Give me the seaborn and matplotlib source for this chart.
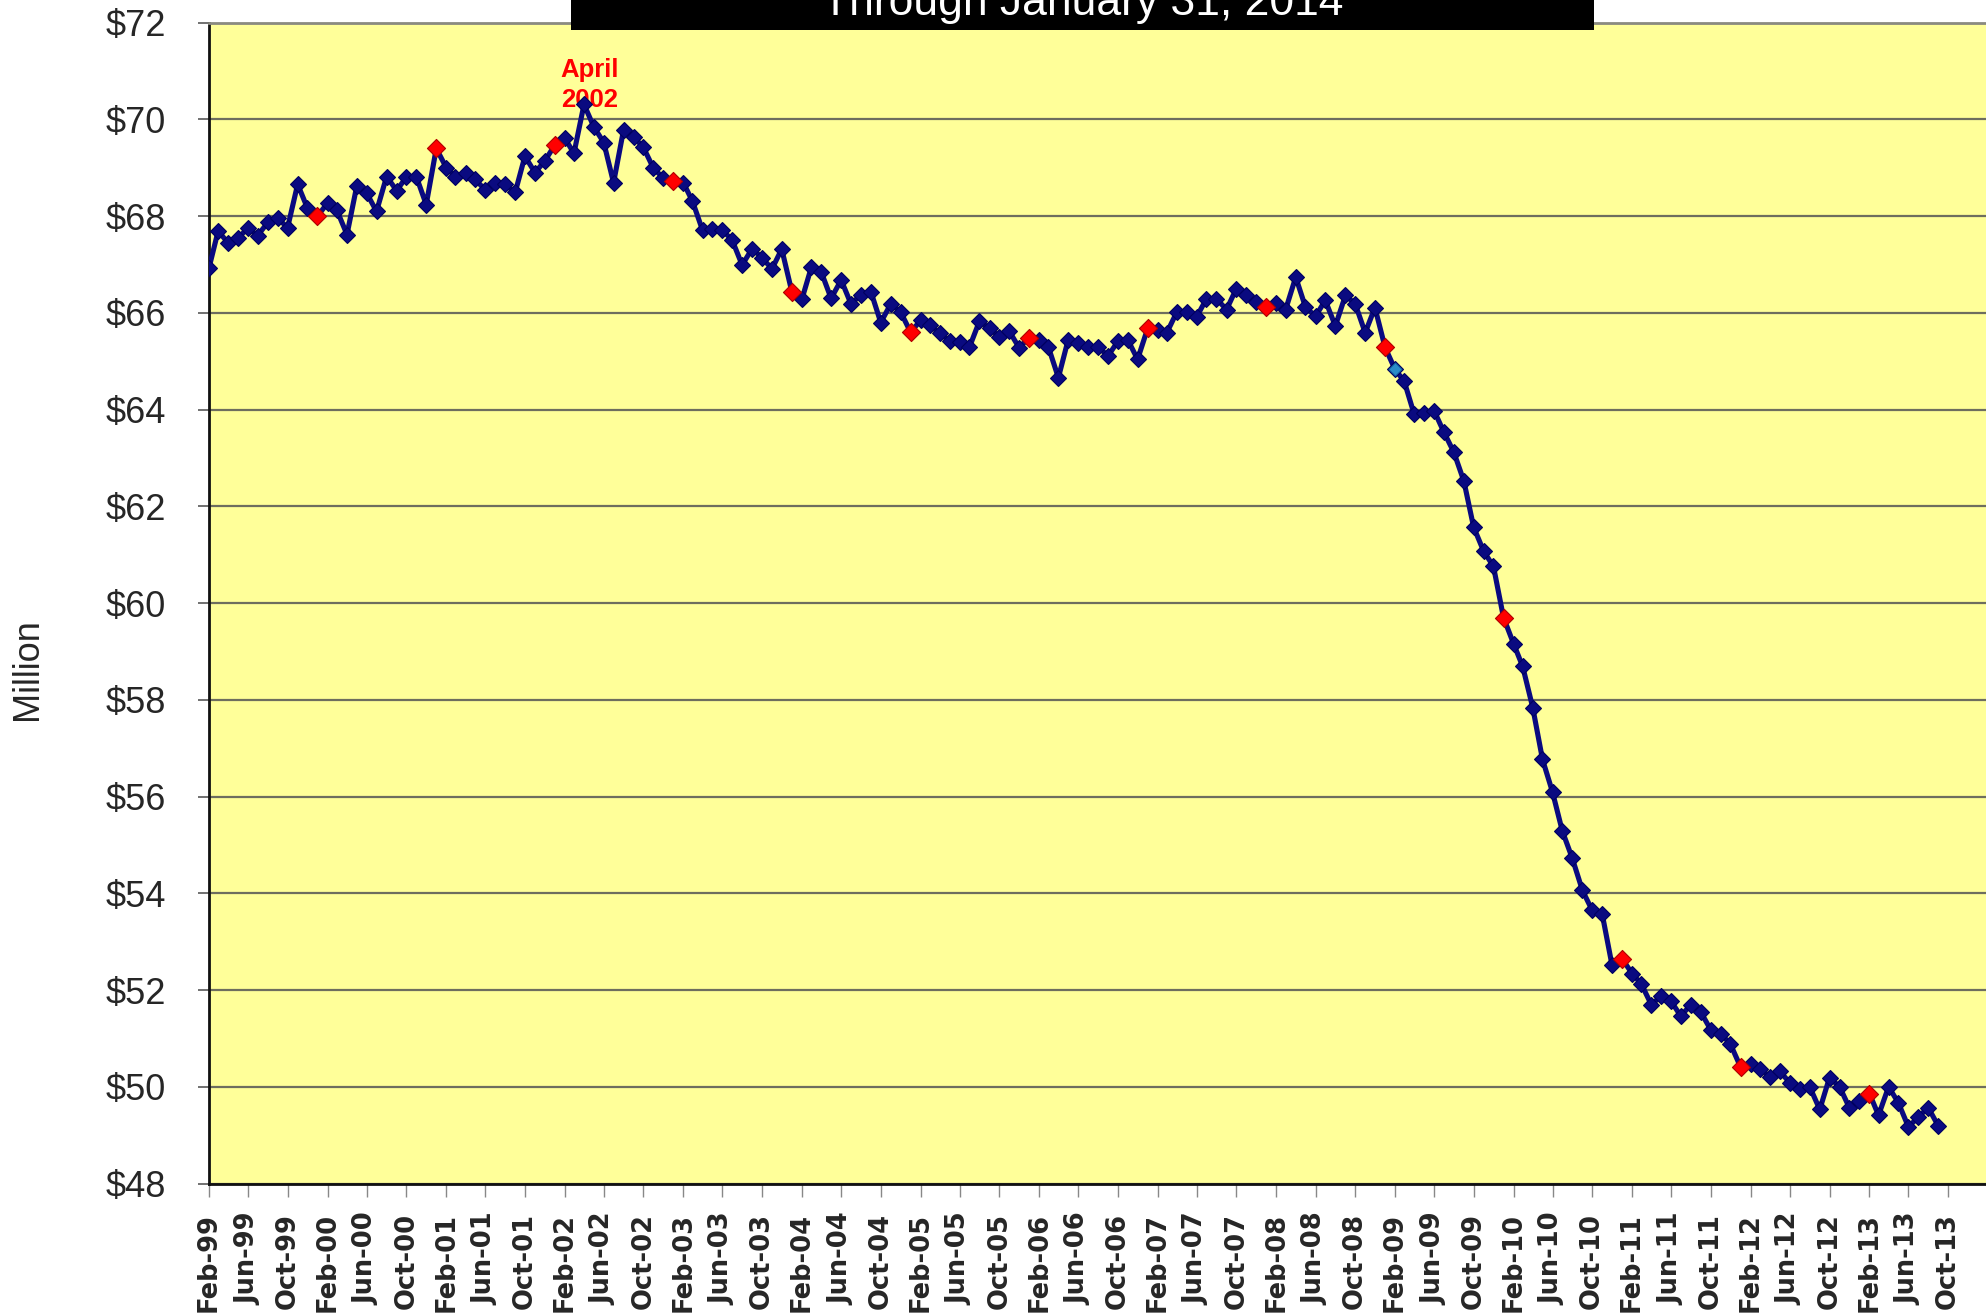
import numpy as np
import pandas as pd
import matplotlib
matplotlib.use("Agg")
import matplotlib.pyplot as plt
from matplotlib.patches import Rectangle
import seaborn as sns

# ---------------- data ----------------
first_month = "1999-02-01"
values = [
    66.93, 67.69, 67.45, 67.55, 67.75, 67.60, 67.87, 67.96, 67.76, 68.66,
    68.17, 68.00, 68.27, 68.12, 67.62, 68.62, 68.47, 68.10, 68.82, 68.53,
    68.81, 68.81, 68.24, 69.40, 69.00, 68.82, 68.90, 68.76, 68.54, 68.69,
    68.66, 68.49, 69.24, 68.90, 69.14, 69.47, 69.61, 69.30, 70.31, 69.85,
    69.52, 68.69, 69.79, 69.64, 69.42, 68.99, 68.79, 68.73, 68.69, 68.31,
    67.71, 67.73, 67.71, 67.51, 66.99, 67.33, 67.14, 66.91, 67.32, 66.44,
    66.28, 66.94, 66.84, 66.30, 66.68, 66.19, 66.37, 66.43, 65.80, 66.19,
    66.02, 65.60, 65.85, 65.74, 65.58, 65.42, 65.39, 65.29, 65.83, 65.68,
    65.51, 65.62, 65.28, 65.49, 65.45, 65.30, 64.66, 65.44, 65.37, 65.29,
    65.30, 65.11, 65.41, 65.44, 65.04, 65.68, 65.65, 65.59, 66.02, 66.02,
    65.92, 66.29, 66.29, 66.07, 66.50, 66.36, 66.23, 66.12, 66.20, 66.07,
    66.74, 66.12, 65.93, 66.26, 65.73, 66.36, 66.19, 65.59, 66.11, 65.29,
    64.83, 64.59, 63.90, 63.93, 63.98, 63.54, 63.12, 62.52, 61.57, 61.07,
    60.76, 59.70, 59.16, 58.69, 57.84, 56.77, 56.09, 55.29, 54.72, 54.06,
    53.65, 53.57, 52.52, 52.65, 52.34, 52.13, 51.70, 51.87, 51.77, 51.46,
    51.70, 51.54, 51.18, 51.10, 50.88, 50.41, 50.47, 50.36, 50.21, 50.32,
    50.08, 49.96, 50.00, 49.53, 50.19, 50.00, 49.57, 49.71, 49.86, 49.41,
    50.00, 49.67, 49.17, 49.37, 49.57, 49.19,
]
highlight_months = ["2000-01", "2001-01", "2002-01", "2003-01", "2004-01",
                    "2005-01", "2006-01", "2007-01", "2008-01", "2009-01",
                    "2010-01", "2011-01", "2012-01", "2013-02"]
teal_months = ["2009-02"]
peak_month = "2002-04"
peak_label = "April\n2002"
title_text = "Through January 31, 2014"
y_label = "Million"
y_ticks = list(range(48, 73, 2))
y_tick_labels = ["$" + str(v) for v in y_ticks]
tick_start, tick_end = "1999-02-01", "2013-10-01"

# ---------------- frame ----------------
dates = pd.date_range(first_month, periods=len(values), freq="MS")
df = pd.DataFrame({"date": dates, "value": values})
df["ym"] = df["date"].dt.strftime("%Y-%m")
df_red = df[df["ym"].isin(highlight_months)]
df_teal = df[df["ym"].isin(teal_months)]
peak_row = df[df["ym"] == peak_month].iloc[0]

sns.set_style("white")
plt.rcParams["font.family"] = ["Liberation Sans", "DejaVu Sans"]

W, H = 1986, 1315
fig = plt.figure(figsize=(W / 100, H / 100), dpi=100)
left_px, top_px, bottom_px = 209, 22.7, 1183.5
ax = fig.add_axes([left_px / W, 1 - bottom_px / H, 1 - left_px / W,
                   (bottom_px - top_px) / H])
ax.set_facecolor("#FFFF99")

navy = "#0A0A80"
sns.lineplot(data=df, x="date", y="value", ax=ax, color=navy, lw=3.7,
             marker="D", markersize=7.8, markeredgecolor="#000060",
             markeredgewidth=0.8, zorder=3, legend=False)
sns.scatterplot(data=df_red, x="date", y="value", ax=ax, marker="D", s=85,
                color="#FF0000", edgecolor="#B00000", linewidth=0.8,
                zorder=4, legend=False)
sns.scatterplot(data=df_teal, x="date", y="value", ax=ax, marker="D", s=45,
                color="#2A8CC8", edgecolor="#1060A0", linewidth=0.6,
                zorder=4, legend=False)

ax.annotate(peak_label, xy=(peak_row["date"], peak_row["value"]),
            xytext=(6, 19), textcoords="offset pixels", ha="center",
            va="center", color="#FF0000", fontweight="bold", fontsize=18.5,
            family="Liberation Sans", linespacing=1.32, zorder=2)

# axes limits
ax.set_ylim(48, 72)
ax.set_xlim(pd.Timestamp(tick_start), pd.Timestamp("2014-01-26"))

# y axis
ax.set_yticks(y_ticks)
ax.set_yticklabels(y_tick_labels, fontsize=26, family="Liberation Sans")
ax.tick_params(axis="y", length=8, width=1.3, color="#666666", pad=23,
               left=True)
ax.yaxis.grid(True, color="#6E6E5E", lw=1.6)
ax.xaxis.grid(False)
ax.set_axisbelow(True)

# x axis
tick_dates = pd.date_range(tick_start, tick_end, freq="4MS")
ax.set_xticks(tick_dates)
ax.set_xticklabels(tick_dates.strftime("%b-%y"), rotation=90,
                   fontsize=18.5, fontweight="heavy", family="DejaVu Sans")
ax.tick_params(axis="x", length=9, width=1.0, color="#888888", pad=12,
               bottom=True)
ax.set_xlabel("")
ax.set_ylabel("")

for s in ["left", "bottom"]:
    ax.spines[s].set_color("#111111")
    ax.spines[s].set_linewidth(2)
ax.spines["top"].set_color("#8A8A80")
ax.spines["top"].set_linewidth(2)
ax.spines["right"].set_visible(False)

fig.text(28 / W, 1 - 669 / H, y_label, rotation=90, ha="center",
         va="center", fontsize=26, family="Liberation Sans")

# title box (cropped at top)
box = Rectangle((571 / W, 1 - 29.7 / H), (1594 - 571) / W, 29.7 / H + 0.01,
                transform=fig.transFigure, facecolor="black",
                edgecolor="none", zorder=5)
fig.patches.append(box)
fig.text(1083 / W, 1 - 15 / H, title_text, ha="center", va="baseline",
         color="white", fontsize=32, family="Liberation Sans", zorder=6)

fig.savefig("out.png", dpi=100)
